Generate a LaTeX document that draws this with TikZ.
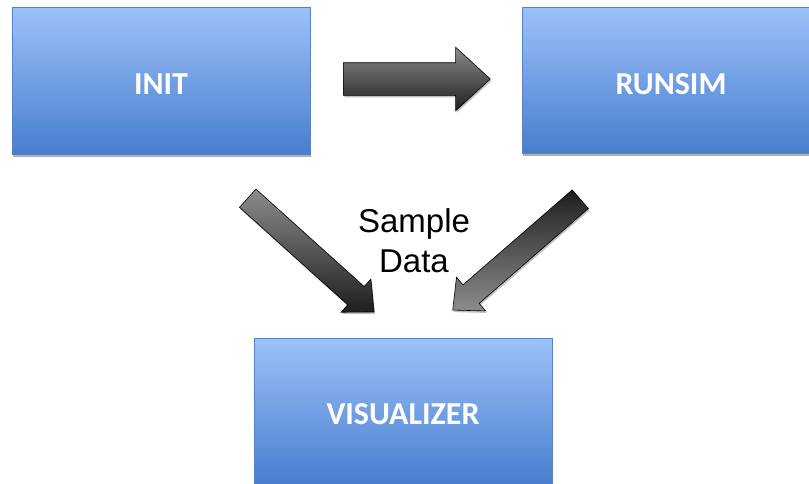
\documentclass[tikz,border=0pt]{standalone}
\usepackage{fontspec}
\setmainfont{Carlito}
\newfontfamily\arialfont{Liberation Sans}
\usetikzlibrary{shapes.arrows,shadows}
\definecolor{boxtop}{RGB}{156,193,250}
\definecolor{boxbot}{RGB}{72,126,205}
\definecolor{boxline}{RGB}{88,130,196}
\definecolor{arrlight}{RGB}{140,140,140}
\definecolor{arrdark}{RGB}{30,30,30}
\tikzset{
  blockbox/.style={rectangle, draw=boxline, line width=0.6pt, top color=boxtop, bottom color=boxbot,
    text=white, font=\fontsize{32}{38}\selectfont\bfseries, inner sep=0pt,
    drop shadow={shadow xshift=1pt, shadow yshift=-3pt, opacity=0.3, fill=black}},
  bigarrow/.style={single arrow, draw=black, line width=0.6pt, inner xsep=0pt, anchor=tail,
    single arrow tip angle=85, single arrow head indent=0pt,
    drop shadow={shadow xshift=1pt, shadow yshift=-2pt, opacity=0.25, fill=black}},
  lbl/.style={font=\arialfont\fontsize{33}{40}\selectfont, align=center, text=black, inner sep=0pt}
}
\begin{document}
\begin{tikzpicture}[x=1pt,y=-1pt]
\useasboundingbox (0,0) rectangle (809,483);
\fill[white] (0,0) rectangle (809,483);
\clip (0,0) rectangle (809,483);
% boxes
\node[blockbox, minimum width=298pt, minimum height=147pt] (init) at (161,80.5) {\raisebox{-14pt}[0pt][0pt]{INIT}};
\node[blockbox, minimum width=298pt, minimum height=146pt] (runsim) at (671,80) {\raisebox{-14.5pt}[0pt][0pt]{RUNSIM}};
\node[blockbox, minimum width=298pt, minimum height=147pt] (vis) at (403,411.5) {\raisebox{-13pt}[0pt][0pt]{VISUALIZER}};
% horizontal arrow
\node[bigarrow, top color=arrlight, bottom color=arrdark, inner ysep=16pt,
  single arrow head extend=15.5pt, minimum height=147pt] (a1) at (343,79) {};
% diagonal arrows
\node[bigarrow, top color=arrlight, bottom color=arrdark, inner ysep=12pt,
  single arrow head extend=10pt, minimum height=170pt, rotate=-42] (a2) at (247.5,198) {};
\node[bigarrow, top color=arrdark, bottom color=arrlight, inner ysep=12pt,
  single arrow head extend=10pt, minimum height=169pt, rotate=221] (a3) at (580.5,199) {};
% label
\node[lbl] (lab) at (414,241) {Sample\\Data};
\end{tikzpicture}
\end{document}
